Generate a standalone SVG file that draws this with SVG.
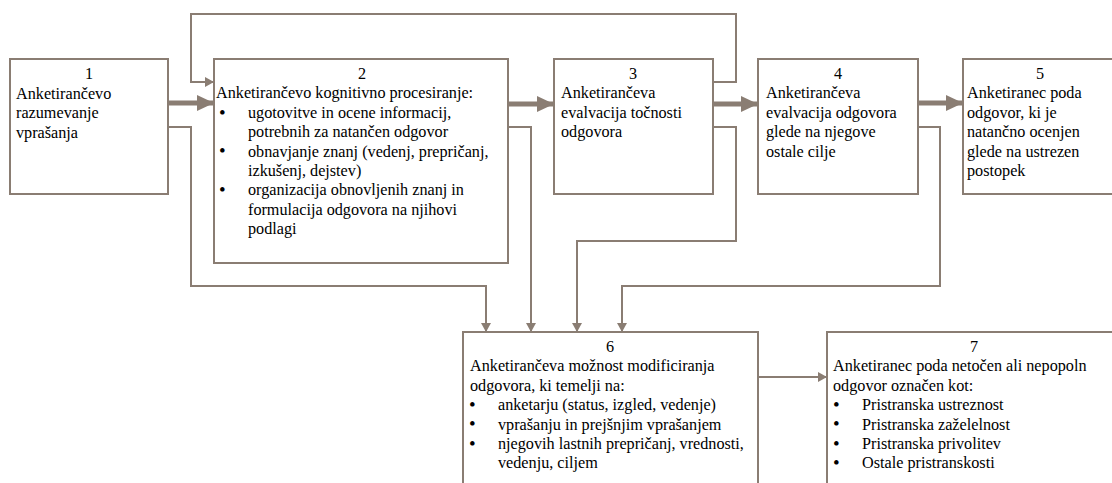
<svg xmlns="http://www.w3.org/2000/svg" width="1112" height="483" viewBox="0 0 1112 483">
<style>
.box{fill:#fff;stroke:#8a7d73;stroke-width:2}
.c{text-anchor:middle}
.b{font-size:19px}
.ln{fill:none;stroke:#8a7d73;stroke-width:2}
.thick{fill:none;stroke:#8a7d73;stroke-width:5;stroke-linecap:round}
</style>
<defs>
<marker id="a" markerUnits="userSpaceOnUse" markerWidth="10" markerHeight="10" refX="9" refY="5" orient="auto" viewBox="0 0 10 10">
<path d="M0,0 L9,5 L0,10 z" fill="#8a7d73"/>
</marker>
<marker id="A" markerUnits="userSpaceOnUse" markerWidth="17" markerHeight="16" refX="17" refY="8" orient="auto" viewBox="0 0 17 16">
<path d="M0,0 L17,8 L0,16 z" fill="#8a7d73"/>
</marker>
</defs>
<rect width="1112" height="483" fill="#fff"/>
<g id="connectors">
<polyline class="ln" points="713,82 736,82 736,14 191,14 191,82 214,82" marker-end="url(#a)"/>
<line class="thick" x1="169" y1="103" x2="214" y2="103" marker-end="url(#A)"/>
<line class="thick" x1="509" y1="104" x2="554" y2="104" marker-end="url(#A)"/>
<line class="thick" x1="714" y1="104" x2="758" y2="104" marker-end="url(#A)"/>
<line class="thick" x1="919" y1="103" x2="963" y2="103" marker-end="url(#A)"/>
<polyline class="ln" points="168,127 191,127 191,286 486,286 486,332" marker-end="url(#a)"/>
<polyline class="ln" points="508,127 531,127 531,332" marker-end="url(#a)"/>
<polyline class="ln" points="713,127 736,127 736,241 577,241 577,332" marker-end="url(#a)"/>
<polyline class="ln" points="918,127 940,127 940,286 622,286 622,332" marker-end="url(#a)"/>
<line class="ln" x1="758" y1="377" x2="827" y2="377" marker-end="url(#a)"/>
</g>
<g font-family="'Liberation Serif', 'Times New Roman', 'DejaVu Serif', serif" font-size="16.2" fill="#000">
<g id="node1">
<rect class="box" x="10" y="59" width="158" height="135"/>
<text class="c" x="89" y="79">1</text>
<text x="16" y="98.5">Anketirančevo</text>
<text x="16" y="118">razumevanje</text>
<text x="16" y="137.5">vprašanja</text>
</g>
<g id="node2">
<rect class="box" x="214" y="59" width="294" height="204"/>
<text class="c" x="362" y="79">2</text>
<text x="216" y="98.4">Anketirančevo kognitivno procesiranje:</text>
<text class="b" x="219" y="118.5">•</text>
<text x="248" y="117.8">ugotovitve in ocene informacij,</text>
<text x="248" y="137.2">potrebnih za natančen odgovor</text>
<text class="b" x="219" y="157.3">•</text>
<text x="248" y="156.6">obnavjanje znanj (vedenj, prepričanj,</text>
<text x="248" y="176">izkušenj, dejstev)</text>
<text class="b" x="219" y="196.1">•</text>
<text x="248" y="195.4">organizacija obnovljenih znanj in</text>
<text x="248" y="214.8">formulacija odgovora na njihovi</text>
<text x="248" y="234.2">podlagi</text>
</g>
<g id="node3">
<rect class="box" x="554" y="59" width="159" height="135"/>
<text class="c" x="633" y="79">3</text>
<text x="561" y="98.4">Anketirančeva</text>
<text x="561" y="117.8">evalvacija točnosti</text>
<text x="561" y="137.2">odgovora</text>
</g>
<g id="node4">
<rect class="box" x="758" y="59" width="160" height="135"/>
<text class="c" x="838" y="79">4</text>
<text x="766" y="98.4">Anketirančeva</text>
<text x="766" y="117.8">evalvacija odgovora</text>
<text x="766" y="137.2">glede na njegove</text>
<text x="766" y="156.6">ostale cilje</text>
</g>
<g id="node5">
<rect class="box" x="963" y="59" width="170" height="135"/>
<text class="c" x="1040" y="79">5</text>
<text x="967" y="98.4">Anketiranec poda</text>
<text x="967" y="117.8">odgovor, ki je</text>
<text x="967" y="137.2">natančno ocenjen</text>
<text x="967" y="156.6">glede na ustrezen</text>
<text x="967" y="176">postopek</text>
</g>
<g id="node6">
<rect class="box" x="463" y="332" width="295" height="170"/>
<text class="c" x="610" y="352">6</text>
<text x="470" y="371.4">Anketirančeva možnost modificiranja</text>
<text x="470" y="390.8">odgovora, ki temelji na:</text>
<text class="b" x="469" y="410.9">•</text>
<text x="498" y="410.2">anketarju (status, izgled, vedenje)</text>
<text class="b" x="469" y="430.3">•</text>
<text x="498" y="429.6">vprašanju in prejšnjim vprašanjem</text>
<text class="b" x="469" y="449.7">•</text>
<text x="498" y="449">njegovih lastnih prepričanj, vrednosti,</text>
<text x="498" y="468.4">vedenju, ciljem</text>
</g>
<g id="node7">
<rect class="box" x="827" y="332" width="300" height="170"/>
<text class="c" x="974" y="352">7</text>
<text x="833" y="371.4">Anketiranec poda netočen ali nepopoln</text>
<text x="833" y="390.8">odgovor označen kot:</text>
<text class="b" x="833" y="410.9">•</text>
<text x="862" y="410.2">Pristranska ustreznost</text>
<text class="b" x="833" y="430.3">•</text>
<text x="862" y="429.6">Pristranska zaželelnost</text>
<text class="b" x="833" y="449.7">•</text>
<text x="862" y="449">Pristranska privolitev</text>
<text class="b" x="833" y="469.1">•</text>
<text x="862" y="468.4">Ostale pristranskosti</text>
</g>
</g>
</svg>
